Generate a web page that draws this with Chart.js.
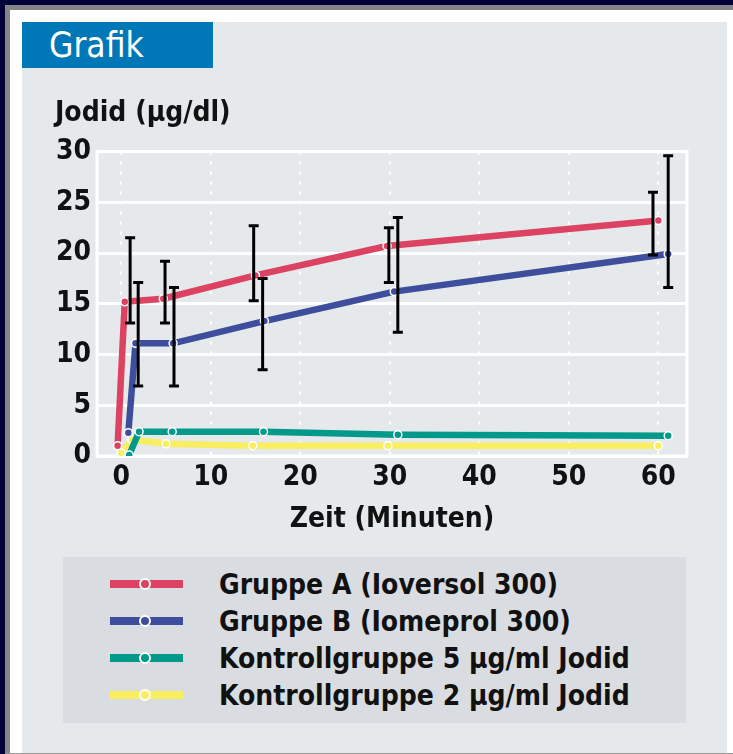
<!DOCTYPE html>
<html lang="de">
<head>
<meta charset="utf-8">
<script src="https://cdn.jsdelivr.net/npm/chart.js@4.4.1/dist/chart.umd.min.js"></script>
<style>
  body { margin: 0; width: 733px; height: 754px; background: #02023a; overflow: hidden; font-family: "DejaVu Sans Condensed", "DejaVu Sans", sans-serif; }
  #rahmen { position: absolute; left: 5px; top: 5px; width: 728px; height: 749px; box-sizing: border-box;
            background: #fff; border-left: 5px solid #858585; border-top: 5px solid #858585; border-bottom: 1px solid #999; }
  #panel { position: absolute; left: 22px; top: 22px; width: 705px; height: 731px; background: #e6e9ec; }
  #kopf { position: absolute; left: 22px; top: 22px; width: 191px; height: 46px; background: #0077b6;
          color: #fff; font-size: 35px; line-height: 46px; box-sizing: border-box; padding-left: 27px; }
  #diagramm { position: absolute; left: 22px; top: 68px; }
  #legende { position: absolute; left: 63px; top: 557px; width: 623px; height: 166px; background: #d9dde1; }
  .zeile { position: absolute; left: 0; height: 37px; width: 100%; }
  .linie { position: absolute; left: 47px; top: 14px; width: 73px; height: 8px; }
  .punkt { position: absolute; left: 76px; top: 12px; width: 8px; height: 8px; border-radius: 50%; border: 2px solid #fff; }
  .text { position: absolute; left: 156px; top: 0; font-size: 28px; font-weight: bold; line-height: 37px; color: #111; white-space: nowrap; }
</style>
</head>
<body>
<div id="rahmen"></div>
<div id="panel"></div>
<div id="kopf">Grafik</div>
<canvas id="diagramm" width="705" height="472"></canvas>
<div id="legende"></div>

<script>
// Werte
const gruppen = ["Gruppe A (Ioversol 300)", "Gruppe B (Iomeprol 300)",
                 "Kontrollgruppe 5 µg/ml Jodid", "Kontrollgruppe 2 µg/ml Jodid"];
const farben = ["#dc4262", "#3e4e9c", "#00998a", "#f8ee60"];

const zeitA = [-0.4, 0.4, 4.7, 15, 29.7, 60];
const jodidA = [1.0, 15.2, 15.5, 17.8, 20.7, 23.2];
const zeitB = [0.8, 1.6, 5.8, 16, 30.5, 61.1];
const jodidB = [2.3, 11.1, 11.1, 13.3, 16.2, 19.9];
const zeitK5 = [0.9, 2.0, 5.7, 15.9, 30.9, 61.1];
const jodidK5 = [0.1, 2.4, 2.4, 2.4, 2.1, 2.0];
const zeitK2 = [0, 1.2, 5, 14.7, 29.8, 60];
const jodidK2 = [0.3, 1.6, 1.2, 1.0, 1.0, 1.0];

// Fehlerbalken (Standardabweichung) fuer Gruppe A und B
const fehlerZeitA = [1.0, 4.9, 14.8, 29.9, 59.4];
const fehlerUntenA = [13.1, 13.1, 15.3, 17.1, 19.8];
const fehlerObenA = [21.5, 19.2, 22.7, 22.5, 26.0];
const fehlerZeitB = [1.9, 5.9, 15.8, 30.9, 61.1];
const fehlerUntenB = [6.9, 6.9, 8.5, 12.2, 16.6];
const fehlerObenB = [17.1, 16.6, 17.5, 23.5, 29.6];

const xTicks = [0, 10, 20, 30, 40, 50, 60];
const yTicks = [0, 5, 10, 15, 20, 25, 30];

const schrift = { family: "DejaVu Sans Condensed", size: 28, weight: 'bold' };

function punkte(xs, ys) {
  return xs.map((x, i) => ({ x: x, y: ys[i] }));
}

function serie(i, xs, ys) {
  return {
    label: gruppen[i],
    data: punkte(xs, ys),
    borderColor: farben[i],
    backgroundColor: farben[i],
    borderWidth: 6.5,
    pointRadius: 4,
    pointBorderColor: '#fff',
    pointBorderWidth: 1.5,
    pointBackgroundColor: farben[i],
    tension: 0
  };
}

// weisser Rahmen um die Zeichenflaeche
const rahmenPlugin = {
  id: 'rahmen',
  beforeDatasetsDraw(chart) {
    const { ctx, chartArea: a } = chart;
    ctx.save();
    ctx.strokeStyle = '#fff';
    ctx.lineWidth = 3;
    ctx.strokeRect(a.left, a.top, a.right - a.left, a.bottom - a.top);
    ctx.restore();
  }
};

// Fehlerbalken ueber die Skalen zeichnen
const fehlerPlugin = {
  id: 'fehler',
  afterDatasetsDraw(chart) {
    const { ctx, scales } = chart;
    const balken = [
      [fehlerZeitA, fehlerUntenA, fehlerObenA],
      [fehlerZeitB, fehlerUntenB, fehlerObenB]
    ];
    ctx.save();
    ctx.strokeStyle = '#000';
    ctx.lineWidth = 3;
    balken.forEach(([zs, us, os]) => {
      zs.forEach((z, i) => {
        const x = scales.x.getPixelForValue(z);
        const y1 = scales.y.getPixelForValue(us[i]);
        const y2 = scales.y.getPixelForValue(os[i]);
        ctx.beginPath();
        ctx.moveTo(x, y1); ctx.lineTo(x, y2);
        ctx.moveTo(x - 5, y1); ctx.lineTo(x + 5, y1);
        ctx.moveTo(x - 5, y2); ctx.lineTo(x + 5, y2);
        ctx.stroke();
      });
    });
    ctx.restore();
  }
};

new Chart(document.getElementById('diagramm'), {
  type: 'line',
  data: {
    datasets: [
      serie(0, zeitA, jodidA),
      serie(1, zeitB, jodidB),
      serie(2, zeitK5, jodidK5),
      serie(3, zeitK2, jodidK2)
    ]
  },
  options: {
    responsive: false,
    animation: false,
    layout: { padding: { left: 33, right: 40, top: 0, bottom: 0 } },
    plugins: {
      legend: { display: false },
      tooltip: { enabled: false },
      title: {
        display: true,
        text: 'Jodid (µg/dl)',
        align: 'start',
        color: '#111',
        font: schrift,
        padding: { top: 29, bottom: 21 }
      }
    },
    scales: {
      x: {
        type: 'linear',
        min: -2.7,
        max: 63.2,
        afterBuildTicks: s => { s.ticks = xTicks.map(v => ({ value: v })); },
        afterFit: s => { s.height = 84; },
        ticks: { color: '#111', font: schrift, padding: 5, maxRotation: 0 },
        grid: { color: '#fff', lineWidth: 2, drawTicks: false },
        border: { display: false, dash: [3, 7] },
        title: {
          display: true, text: 'Zeit (Minuten)', color: '#111',
          font: schrift, padding: { top: 0, bottom: 3 }
        }
      },
      y: {
        min: 0,
        max: 30,
        afterBuildTicks: s => { s.ticks = yTicks.map(v => ({ value: v })); },
        afterFit: s => { s.width = 42; },
        ticks: { color: '#111', font: schrift, padding: 6 },
        grid: { color: '#fff', lineWidth: 3, drawTicks: false },
        border: { display: false }
      }
    }
  },
  plugins: [rahmenPlugin, fehlerPlugin]
});

// Legende als HTML
const legende = document.getElementById('legende');
gruppen.forEach((name, i) => {
  const zeile = document.createElement('div');
  zeile.className = 'zeile';
  zeile.style.top = (9 + i * 37) + 'px';
  zeile.innerHTML = '<div class="linie" style="background:' + farben[i] + '"></div>' +
    '<div class="punkt" style="background:' + farben[i] + '"></div>' +
    '<div class="text">' + name + '</div>';
  legende.appendChild(zeile);
});
</script>
</body>
</html>
